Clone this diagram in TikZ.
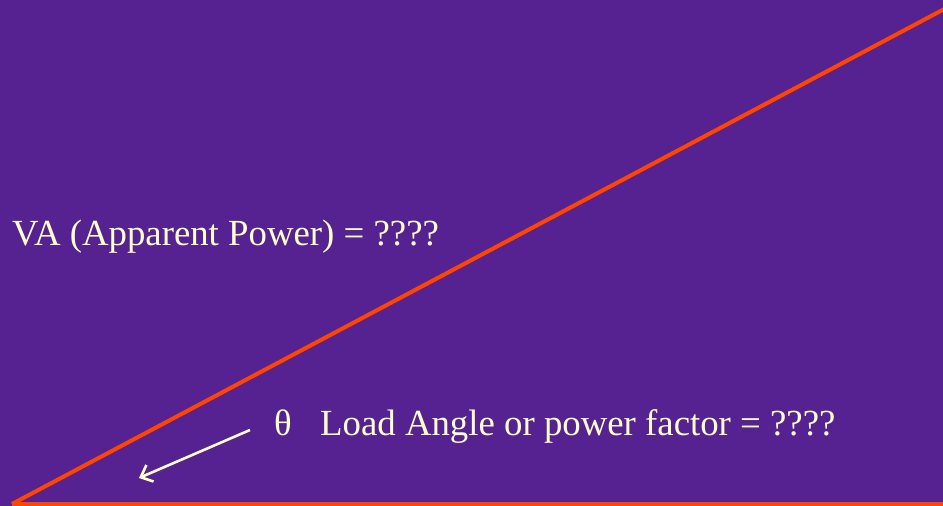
\documentclass[tikz,border=0pt]{standalone}
\usepackage{fontspec}
\setmainfont{Liberation Serif}
\usepackage{tikz}
\usetikzlibrary{positioning, arrows.meta}
\definecolor{BgPurple}{RGB}{86,34,145}
\definecolor{LineRed}{RGB}{255,69,0}
\definecolor{TextCream}{RGB}{255,255,204}

\begin{document}
\begin{tikzpicture}[x=1pt, y=-1pt,
          lbl/.style={text=TextCream, inner sep=0pt, anchor=base west,
                      font=\fontsize{36.8}{40}\selectfont},
          side/.style={LineRed, line width=4pt},
          arr/.style={-{Straight Barb[length=10pt, width=18pt]},
                      TextCream, line width=2.6pt}
        ]
        % Background
        \fill[BgPurple] (0,0) rectangle (943,506);
        \useasboundingbox (0,0) rectangle (943,506);
        % Triangle corners
        \coordinate (origin) at (12,504);
        \coordinate (top) at (950,6);
        \coordinate (base) at (950,504);
        \draw[side] (origin)--(top);
        \draw[side] (origin)--(base);
        % Labels
        \node[lbl] (va) at (12,245) {VA (Apparent Power) = ????};
        \node[lbl] (theta) at (274,435) {θ};
        \node[lbl] (load) at (320,435) {Load Angle or power factor = ????};
        % Angle pointer
        \coordinate (arrstart) at (250,430);
        \coordinate (arrend) at (139,478);
        \draw[arr] (arrstart)--(arrend);
      \end{tikzpicture}
\end{document}
